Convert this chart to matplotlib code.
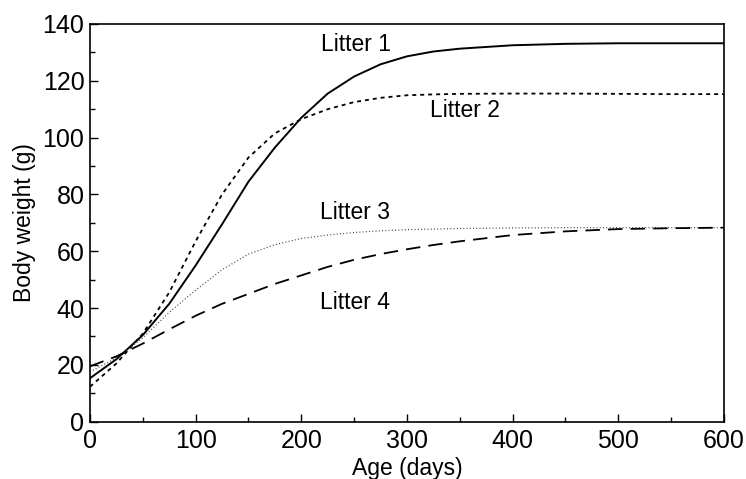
import matplotlib
matplotlib.use("Agg")
import matplotlib.pyplot as plt
from matplotlib.ticker import MultipleLocator

plt.rcParams['font.family'] = ['Liberation Sans', 'DejaVu Sans']

age = [0, 25, 50, 75, 100, 125, 150, 175, 200, 225, 250, 275, 300, 325, 350, 400, 450, 500, 550, 600]
litter1 = [15.3, 22.0, 30.5, 41.5, 55.0, 69.5, 84.5, 96.5, 107.0, 115.5, 121.5, 125.8, 128.6, 130.3, 131.3, 132.5, 133.0, 133.2, 133.2, 133.2]
litter2 = [12.3, 20.5, 31.0, 45.5, 63.5, 80.0, 93.0, 101.5, 106.5, 110.0, 112.5, 114.0, 114.9, 115.2, 115.4, 115.5, 115.5, 115.4, 115.3, 115.3]
litter3 = [17.5, 22.5, 29.5, 38.5, 46.3, 53.5, 59.0, 62.3, 64.5, 65.7, 66.6, 67.2, 67.6, 67.8, 68.0, 68.2, 68.3, 68.3, 68.3, 68.3]
litter4 = [19.5, 23.0, 27.5, 32.5, 37.3, 41.5, 45.0, 48.5, 51.5, 54.5, 57.0, 59.0, 60.7, 62.2, 63.5, 65.7, 67.0, 67.8, 68.1, 68.3]

labels = ["Litter 1", "Litter 2", "Litter 3", "Litter 4"]
label_x = [219, 322, 218, 218]
label_y = [132.6, 109.7, 73.8, 42.1]

fig = plt.figure(figsize=(7.46, 4.79), dpi=100)
ax = fig.add_axes([0.1206, 0.1196, 0.8499, 0.8304])

ax.plot(age, litter1, color='black', lw=1.4, linestyle='-')
ax.plot(age, litter2, color='black', lw=1.3, linestyle=(0, (2.2, 2.2)))
ax.plot(age, litter3, color='#444444', lw=0.9, linestyle=(0, (0.8, 1.8)))
ax.plot(age, litter4, color='black', lw=1.3, linestyle=(0, (8, 4.5)))

for t, x, y in zip(labels, label_x, label_y):
    ax.text(x, y, t, fontsize=16.5, ha='left', va='center')

ax.set_xlim(0, 600)
ax.set_ylim(0, 140)
ax.xaxis.set_major_locator(MultipleLocator(100))
ax.xaxis.set_minor_locator(MultipleLocator(50))
ax.yaxis.set_major_locator(MultipleLocator(20))
ax.yaxis.set_minor_locator(MultipleLocator(10))
ax.tick_params(which='both', direction='in', labelsize=18, width=1.0)
ax.tick_params(which='major', length=6)
ax.tick_params(axis='x', which='major', pad=5)
ax.tick_params(axis='y', which='major', pad=4)
ax.tick_params(which='minor', length=3.5)
for s in ax.spines.values():
    s.set_linewidth(1.2)

ax.set_xlabel("Age (days)", fontsize=16.5, labelpad=3)
ax.set_ylabel("Body weight (g)", fontsize=16.5, labelpad=5)

fig.savefig("out.png", dpi=100)
